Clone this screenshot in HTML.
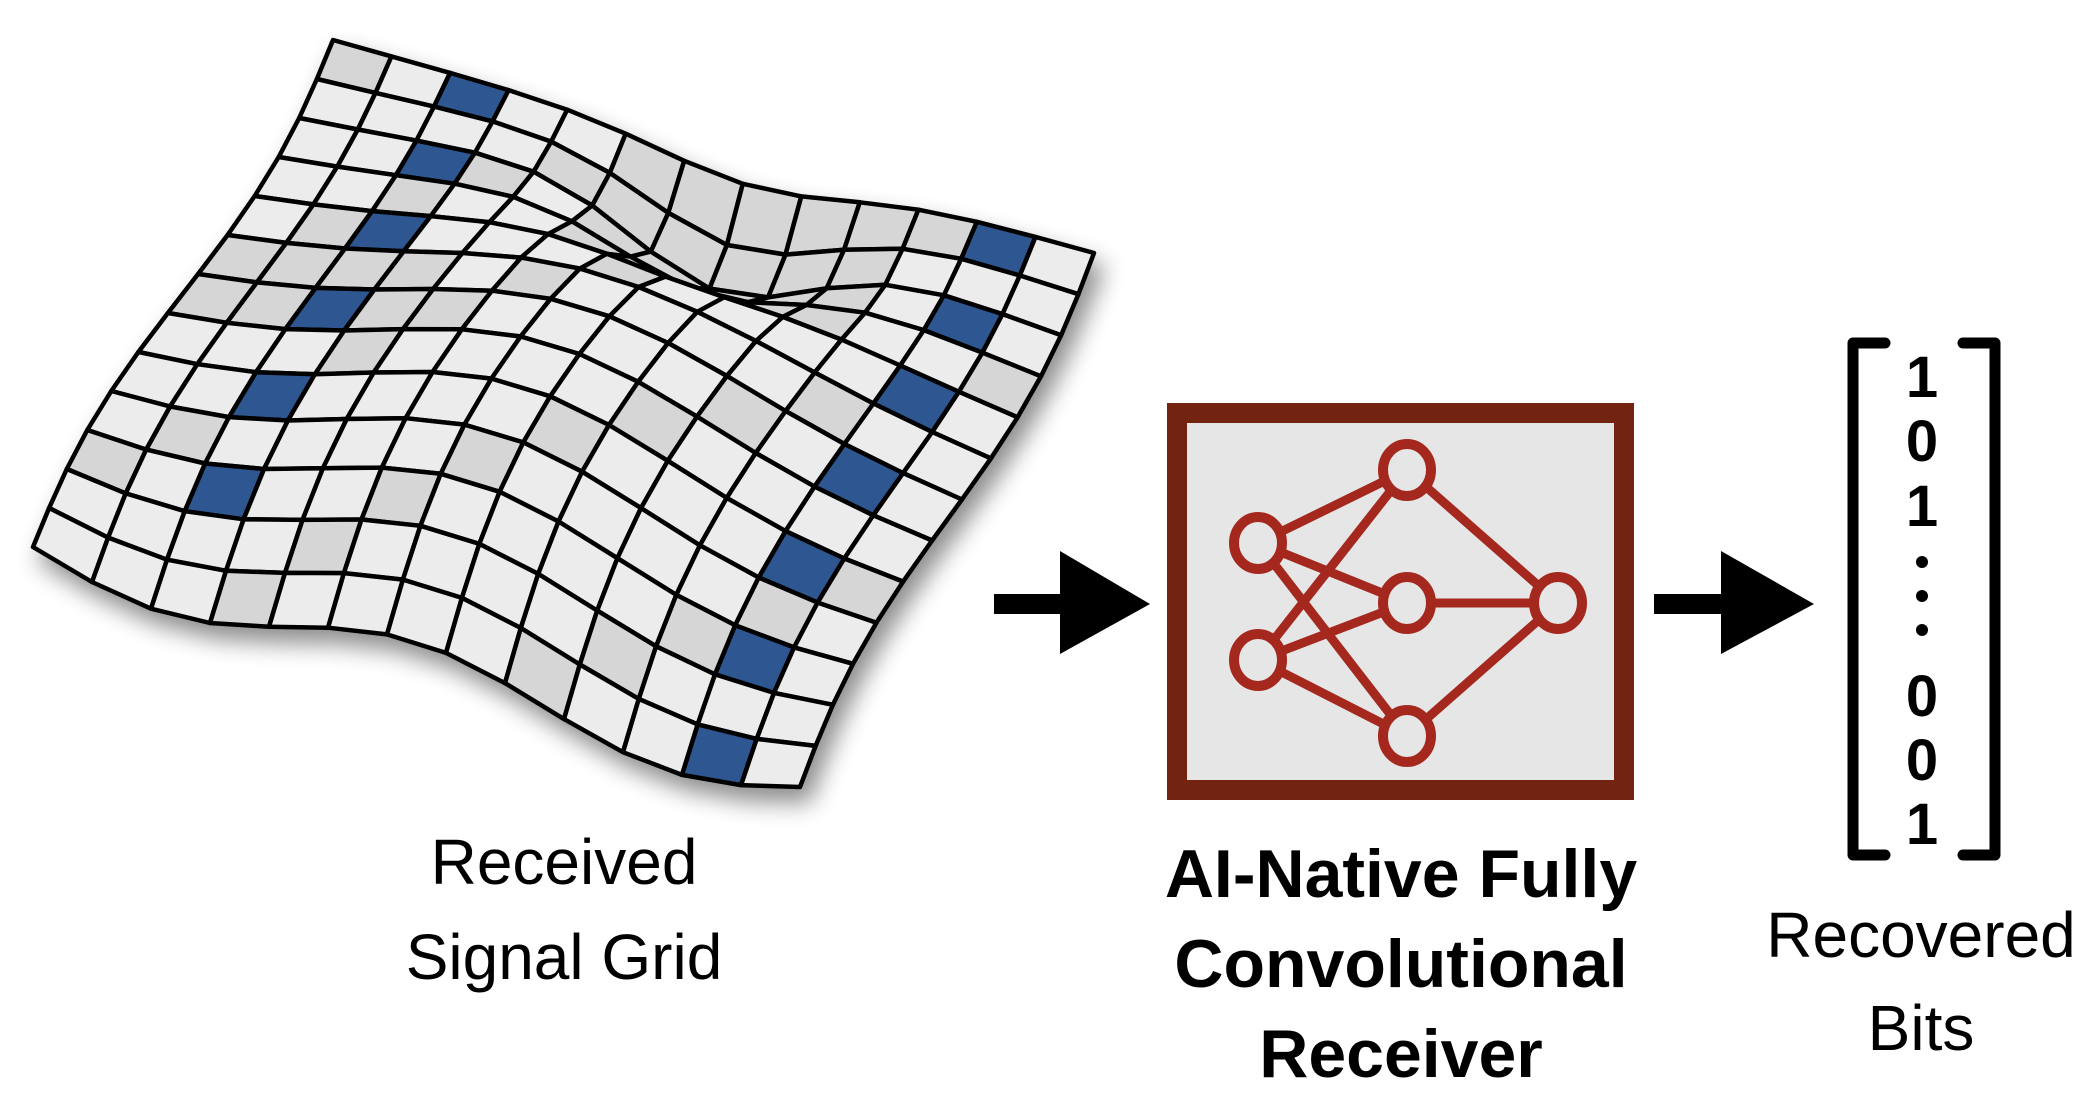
<!DOCTYPE html>
<html><head><meta charset="utf-8">
<style>
html,body{margin:0;padding:0;background:#fff;}
body{width:2092px;height:1109px;position:relative;overflow:hidden;font-family:"Liberation Sans",sans-serif;}
.lbl{position:absolute;text-align:center;color:#000;font-family:"Liberation Sans",sans-serif;line-height:1;}
</style></head><body>
<svg id="s" width="2092" height="1109" style="position:absolute;left:0;top:0">
<defs>
<filter id="sh" x="-20%" y="-20%" width="140%" height="140%">
<feGaussianBlur in="SourceAlpha" stdDeviation="12"/>
<feOffset dx="8" dy="14"/>
<feComponentTransfer><feFuncA type="linear" slope="0.45"/></feComponentTransfer>
<feMerge><feMergeNode/><feMergeNode in="SourceGraphic"/></feMerge>
</filter>
</defs>
<g id="mesh" filter="url(#sh)"></g>
<rect x="994" y="594" width="76" height="20" fill="#000"/>
<polygon points="1060,551 1150,604 1060,654" fill="#000"/>
<rect x="1654" y="594" width="76" height="20" fill="#000"/>
<polygon points="1721,551 1814,604 1721,654" fill="#000"/>
<rect x="1177" y="413" width="447" height="377" fill="#e6e6e6" stroke="#722410" stroke-width="20"/>
<g stroke="#a5281e" stroke-width="9" fill="none">
<line x1="1258" y1="543" x2="1407" y2="470"/>
<line x1="1258" y1="543" x2="1407" y2="603"/>
<line x1="1258" y1="543" x2="1407" y2="736"/>
<line x1="1258" y1="660" x2="1407" y2="470"/>
<line x1="1258" y1="660" x2="1407" y2="603"/>
<line x1="1258" y1="660" x2="1407" y2="736"/>
<line x1="1407" y1="470" x2="1558" y2="603"/>
<line x1="1407" y1="603" x2="1558" y2="603"/>
<line x1="1407" y1="736" x2="1558" y2="603"/>
</g>
<g stroke="#a5281e" stroke-width="10" fill="#e6e6e6">
<ellipse cx="1258" cy="543" rx="24" ry="26"/>
<ellipse cx="1258" cy="660" rx="24" ry="26"/>
<ellipse cx="1407" cy="470" rx="24" ry="26"/>
<ellipse cx="1407" cy="603" rx="24" ry="26"/>
<ellipse cx="1407" cy="736" rx="24" ry="26"/>
<ellipse cx="1558" cy="603" rx="24" ry="26"/>
</g>
<path d="M1885,343 H1853 V855 H1885" stroke="#000" stroke-width="11" fill="none" stroke-linecap="round" stroke-linejoin="round"/>
<path d="M1963,343 H1995 V855 H1963" stroke="#000" stroke-width="11" fill="none" stroke-linecap="round" stroke-linejoin="round"/>
<g font-family="Liberation Sans, sans-serif" font-weight="bold" font-size="58" text-anchor="middle" fill="#000">
<text x="1922" y="397">1</text>
<text x="1922" y="461">0</text>
<text x="1922" y="526">1</text>
<text x="1922" y="716">0</text>
<text x="1922" y="780">0</text>
<text x="1922" y="844">1</text>
</g>
<circle cx="1922" cy="562" r="6" fill="#000"/>
<circle cx="1922" cy="596" r="6" fill="#000"/>
<circle cx="1922" cy="630" r="6" fill="#000"/>
</svg>
<div class="lbl" style="left:364px;top:830px;width:400px;font-size:64px;">Received</div>
<div class="lbl" style="left:314px;top:925px;width:500px;font-size:64px;">Signal Grid</div>
<div class="lbl" style="left:1101px;top:840px;width:600px;font-size:68px;font-weight:bold;">AI-Native Fully</div>
<div class="lbl" style="left:1101px;top:930px;width:600px;font-size:68px;font-weight:bold;">Convolutional</div>
<div class="lbl" style="left:1101px;top:1020px;width:600px;font-size:68px;font-weight:bold;">Receiver</div>
<div class="lbl" style="left:1721px;top:903px;width:400px;font-size:64px;">Recovered</div>
<div class="lbl" style="left:1721px;top:996px;width:400px;font-size:64px;">Bits</div>
<script>
(function(){
var A=[333,40],B=[1094,253],C=[800,787],D=[33,547];
var N=13,M=13;
function P(u,v){
 var x=(1-u)*(1-v)*A[0]+u*(1-v)*B[0]+u*v*C[0]+(1-u)*v*D[0];
 var y=(1-u)*(1-v)*A[1]+u*(1-v)*B[1]+u*v*C[1]+(1-u)*v*D[1];
 y-=70*Math.sin(Math.PI*u)*Math.sin(Math.PI*v);
 y+=90*Math.exp(-((u-0.55)*(u-0.55)/0.03+(v-0.15)*(v-0.15)/0.02));
 y+=25*Math.sin(3*Math.PI*u)*v;
 x+=15*Math.sin(2*Math.PI*v);
 return [x,y];
}
var g=document.getElementById('mesh'),h='';
for(var j=0;j<M;j++){for(var i=0;i<N;i++){
 var p=[P(i/N,j/M),P((i+1)/N,j/M),P((i+1)/N,(j+1)/M),P(i/N,(j+1)/M)];
 var blue=((i==2||i==11)&&j%2==0&&!(i==2&&j>10));
 var shade=(j<4&&i>4&&i<10)||(j>4&&j<7&&i<4)||((i+j)%5==0);
 var f=blue?'#2f5690':(shade?'#d6d6d6':'#ececec');
 h+='<polygon points="'+p.map(function(q){return q[0].toFixed(1)+','+q[1].toFixed(1)}).join(' ')+'" fill="'+f+'" stroke="#000" stroke-width="4.5" stroke-linejoin="round"/>';
}}
g.innerHTML=h;
})();
</script>
</body></html>
